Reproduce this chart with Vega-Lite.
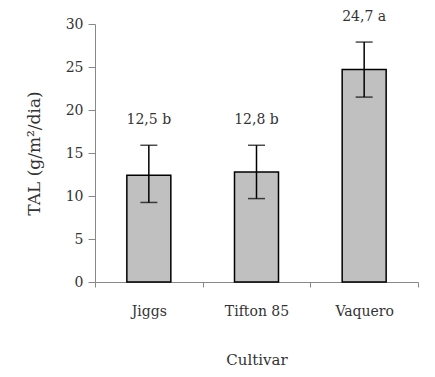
{
  "$schema": "https://vega.github.io/schema/vega-lite/v6.json",
  "autosize": "none",
  "padding": {"left": 95, "top": 24, "right": 17, "bottom": 95},
  "width": 323,
  "height": 258,
  "background": "white",
  "config": {
    "view": {"stroke": null},
    "font": "DejaVu Serif",
    "axis": {"grid": false, "domainColor": "#888888", "tickColor": "#888888", "labelFont": "DejaVu Serif", "titleFont": "DejaVu Serif", "labelColor": "#333333", "titleColor": "#333333", "titleFontWeight": "normal", "labelFontSize": 14, "titleFontSize": 15}
  },
  "data": {"values": [
    {"cultivar": "Jiggs", "tal": 12.4, "low": 9.25, "high": 15.9, "label": "12,5 b"},
    {"cultivar": "Tifton 85", "tal": 12.8, "low": 9.7, "high": 15.9, "label": "12,8 b"},
    {"cultivar": "Vaquero", "tal": 24.7, "low": 21.5, "high": 27.9, "label": "24,7 a"}
  ]},
  "encoding": {
    "x": {"field": "cultivar", "type": "nominal", "sort": null, "title": "Cultivar",
      "scale": {"paddingInner": 0, "paddingOuter": 0},
      "axis": {"labelAngle": 0, "tickBand": "extent", "tickSize": 5, "labelPadding": 17, "titlePadding": 34}}
  },
  "layer": [
    {"mark": {"type": "bar", "color": "#c0c0c0", "stroke": "black", "strokeWidth": 1.5, "width": 44},
     "encoding": {"y": {"field": "tal", "type": "quantitative", "title": "TAL (g/m²/dia)",
       "scale": {"domain": [0, 30], "nice": false},
       "axis": {"values": [0, 5, 10, 15, 20, 25, 30], "tickSize": 7, "labelPadding": 5, "titlePadding": 22, "titleFontSize": 17}}}},
    {"mark": {"type": "rule", "color": "black", "strokeWidth": 1.5},
     "encoding": {"y": {"field": "low", "type": "quantitative"}, "y2": {"field": "high"}}},
    {"mark": {"type": "tick", "color": "black", "thickness": 1.5, "size": 17, "orient": "horizontal"},
     "encoding": {"y": {"field": "high", "type": "quantitative"}}},
    {"mark": {"type": "tick", "color": "black", "thickness": 1.5, "size": 17, "orient": "horizontal"},
     "encoding": {"y": {"field": "low", "type": "quantitative"}}},
    {"mark": {"type": "text", "dy": -25, "fontSize": 14, "color": "#333333", "baseline": "middle", "font": "DejaVu Serif"},
     "encoding": {"y": {"field": "high", "type": "quantitative"}, "text": {"field": "label"}}}
  ]
}
